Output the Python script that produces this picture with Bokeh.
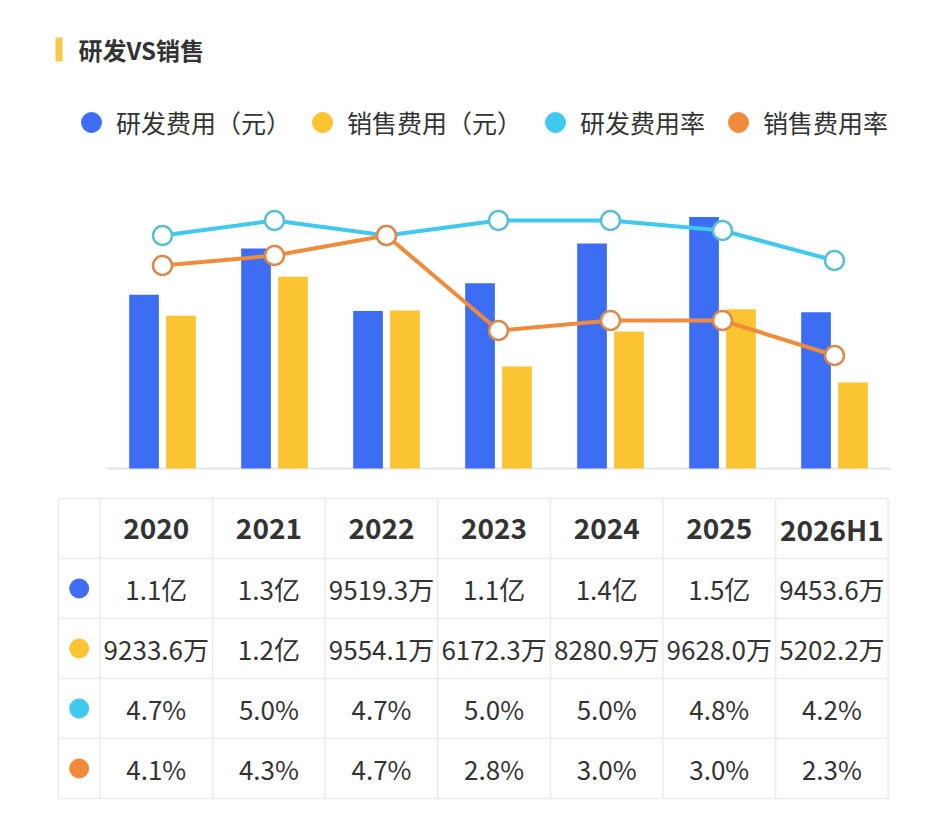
from bokeh.plotting import figure
from bokeh.models import (ColumnDataSource, Range1d, Legend, LegendItem, Label,
                          BoxAnnotation)
from bokeh.transform import dodge
from bokeh.core.properties import value
from bokeh.embed import file_html
from bokeh.resources import INLINE

# ---------------- data ----------------
categories = ["2020", "2021", "2022", "2023", "2024", "2025", "2026H1"]
rd_expense = [1.05, 1.33, 0.95193, 1.12, 1.36, 1.52, 0.94536]          # 亿元
sales_expense = [0.92336, 1.16, 0.95541, 0.61723, 0.82809, 0.96280, 0.52022]  # 亿元
rd_rate = [4.7, 5.0, 4.7, 5.0, 5.0, 4.8, 4.2]        # %
sales_rate = [4.1, 4.3, 4.7, 2.8, 3.0, 3.0, 2.3]     # %
rd_labels = ["1.1亿", "1.3亿", "9519.3万", "1.1亿", "1.4亿", "1.5亿", "9453.6万"]
sales_labels = ["9233.6万", "1.2亿", "9554.1万", "6172.3万", "8280.9万", "9628.0万", "5202.2万"]
series_names = ["研发费用（元）", "销售费用（元）", "研发费用率", "销售费用率"]
series_colors = ["#3D6DF2", "#FBC433", "#3FC9EE", "#F08B3C"]
title_text = "研发VS销售"

FONT = "Noto Sans CJK SC"
W, H = 930, 803
n = len(categories)

p = figure(width=W, height=H, output_backend="svg", toolbar_location=None,
           x_axis_type=None, y_axis_type=None, min_border=0,
           outline_line_color=None,
           x_range=Range1d(-162 / 112.0, -162 / 112.0 + W / 112.0),
           y_range=Range1d(-(H - 468) / 165.4, 468 / 165.4))
p.background_fill_color = "white"
p.border_fill_color = "white"
p.extra_y_ranges = {
    "rate": Range1d(-(H - 470) / 50.0, 470 / 50.0),
    "ty": Range1d((H - 498) / 60.0, -498 / 60.0),
}
p.extra_x_ranges = {"tx": Range1d(-99.5 / 112.6, -99.5 / 112.6 + W / 112.6)}

# ---------------- chart ----------------
xs = list(range(n))
src = ColumnDataSource(dict(x=xs, cat=categories, rd=rd_expense, sales=sales_expense,
                            rdr=rd_rate, slr=sales_rate))

# baseline
p.segment(x0=[-0.5], y0=[0], x1=[n - 0.5], y1=[0], line_color="#e6e6e6", line_width=2)

p.vbar(x=dodge("x", -0.165, range=p.x_range), top="rd", width=0.265, source=src,
       fill_color=series_colors[0], line_color=None)
p.vbar(x=dodge("x", 0.165, range=p.x_range), top="sales", width=0.265, source=src,
       fill_color=series_colors[1], line_color=None)

p.line("x", "rdr", source=src, y_range_name="rate", line_color=series_colors[2], line_width=4)
p.scatter("x", "rdr", source=src, y_range_name="rate", size=19, fill_color="white",
          line_color="#5BBFD0", line_width=2.5)
p.line("x", "slr", source=src, y_range_name="rate", line_color=series_colors[3], line_width=4)
p.scatter("x", "slr", source=src, y_range_name="rate", size=19, fill_color="white",
          line_color="#D98A4F", line_width=2.5)

# ---------------- title ----------------
p.add_layout(BoxAnnotation(left=55, right=62, bottom=H - 61, top=H - 37,
                           left_units="screen", right_units="screen",
                           bottom_units="screen", top_units="screen",
                           fill_color="#F7C948", fill_alpha=1, line_color=None))
p.add_layout(Label(x=78, y=H - 49, x_units="screen", y_units="screen", text=title_text,
                   text_font=FONT, text_font_size="24px", text_font_style="bold",
                   text_color="#333333", text_baseline="middle"))

# ---------------- legend ----------------
legend_x = [91, 322, 555, 738]
for name, col, lx in zip(series_names, series_colors, legend_x):
    r = p.scatter(x=[float("nan")], y=[float("nan")], marker="circle",
                  fill_color=col, line_color=col)
    lg = Legend(items=[LegendItem(label=name, renderers=[r])],
                location=(lx - 25, H - 122 - 25), orientation="horizontal",
                glyph_width=50, glyph_height=50, label_standoff=0, padding=0,
                margin=0, spacing=0, border_line_color=None, background_fill_alpha=0,
                label_text_font=FONT, label_text_font_size="25px",
                label_text_color="#333333")
    p.add_layout(lg)

# ---------------- table ----------------
n_rows = 5
grid_c = "#ececec"
p.segment(x0=[-0.37] * (n_rows + 1), y0=list(range(n_rows + 1)),
          x1=[n] * (n_rows + 1), y1=list(range(n_rows + 1)),
          x_range_name="tx", y_range_name="ty", line_color=grid_c, line_width=1.5)
vx = [-0.37] + list(range(n + 1))
p.segment(x0=vx, y0=[0] * len(vx), x1=vx, y1=[n_rows] * len(vx),
          x_range_name="tx", y_range_name="ty", line_color=grid_c, line_width=1.5)

col_x = [i + 0.5 for i in range(n)]
p.text(x=col_x, y=[0.5] * n, text=categories, x_range_name="tx", y_range_name="ty",
       text_font=value(FONT), text_font_size=value("28px"), text_font_style="bold",
       text_color="#333333", text_align="center", text_baseline="middle")

rows = [rd_labels, sales_labels,
        [f"{v:.1f}%" for v in rd_rate], [f"{v:.1f}%" for v in sales_rate]]
for ri, labels in enumerate(rows):
    yy = ri + 1.5
    p.text(x=col_x, y=[yy] * n, text=labels, x_range_name="tx", y_range_name="ty",
           text_font=value(FONT), text_font_size=value("26px"),
           text_color="#333333", text_align="center", text_baseline="middle")
    p.scatter(x=[-0.185], y=[yy], x_range_name="tx", y_range_name="ty", size=19,
              fill_color=series_colors[ri], line_color=series_colors[ri])

open("out.html", "w").write(file_html(p, INLINE))
